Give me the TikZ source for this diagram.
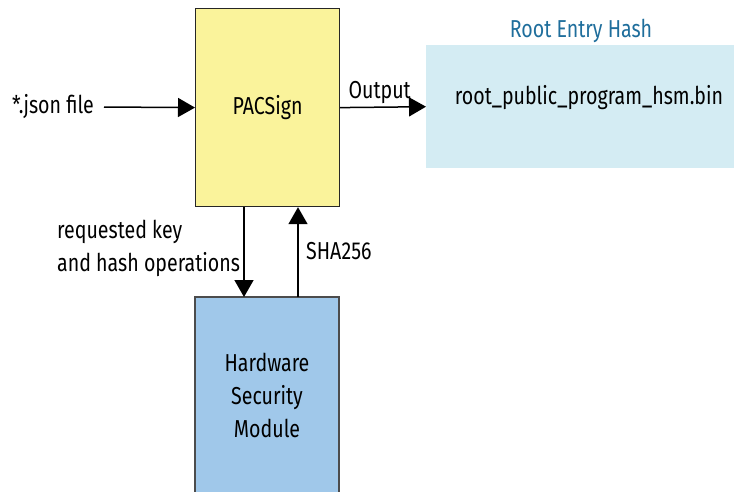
\documentclass[tikz,border=0pt]{standalone}
\usepackage{fontspec}
\setmainfont{Fira Sans}[FakeStretch=0.8]
\usetikzlibrary{arrows.meta}
\definecolor{pacyellow}{HTML}{FAF39B}
\definecolor{hsmblue}{HTML}{A0C8EA}
\definecolor{rootblue}{HTML}{D4ECF3}
\definecolor{titleblue}{HTML}{1F6E9C}
\tikzset{
  box/.style={draw=black!85, line width=1.2pt, inner sep=0pt},
  conn/.style={line width=1.5pt, -{Triangle[length=17pt,width=19pt]}},
  lbl/.style={font=\fontsize{24.5}{33}\selectfont, inner sep=0pt, text=black},
}
\begin{document}
\begin{tikzpicture}[x=1pt,y=-1pt]
\useasboundingbox (0,0) rectangle (734,491);
% boxes
\node[box, fill=pacyellow, minimum width=144pt, minimum height=198pt, anchor=north west] (pac) at (195,8) {};
\node[lbl] at (pac.center) {PACSign};
\path[fill=hsmblue, draw=black!70, line width=1.2pt] (195,500) -- (195,297) -- (339,297) -- (339,500);
\node[box, draw=none, minimum width=144pt, minimum height=194pt, anchor=north west] (hsm) at (195,297) {};
\node[lbl, align=center] at (267,395) {Hardware\\Security\\Module};
\node[fill=rootblue, inner sep=0pt, minimum width=308pt, minimum height=123pt, anchor=north west] (root) at (426,45) {};
\node[lbl] at (589,98) {root\_public\_program\_hsm.bin};
\node[lbl, text=titleblue] (title) at (581,31) {Root Entry Hash};
% input
\node[lbl, anchor=west] (json) at (12,107) {*.json file};
\coordinate (jsonend) at (104,107);
\draw[conn] (jsonend) -- (pac.west);
% output
\draw[conn] (pac.east) -- node[lbl, above=3pt, pos=0.46] {Output} (root.west);
% down/up
\draw[conn] (pac.south -| 244,0) -- (hsm.north -| 244,0);
\draw[conn] (hsm.north -| 298,0) -- (pac.south -| 298,0);
\node[lbl, align=left, anchor=north west] (req) at (57,220) {requested key\\and hash operations};
\node[lbl, anchor=west] (sha) at (306,251) {SHA256};
\end{tikzpicture}
\end{document}
